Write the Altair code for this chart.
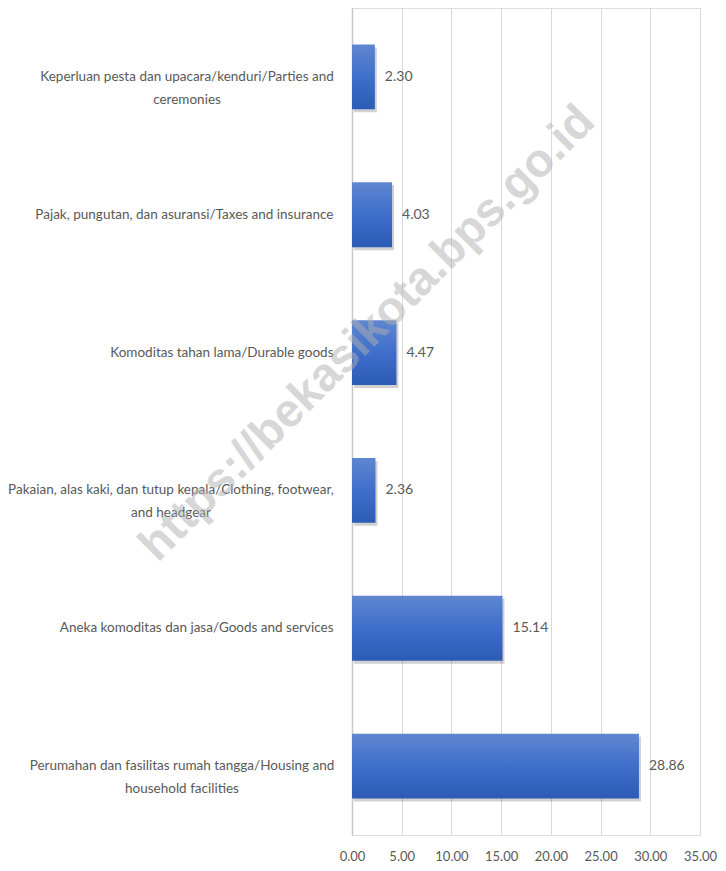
import altair as alt
import pandas as pd

categories = [
    "Keperluan pesta dan upacara/kenduri/Parties and|ceremonies",
    "Pajak, pungutan, dan asuransi/Taxes and insurance",
    "Komoditas tahan lama/Durable goods",
    "Pakaian, alas kaki, dan tutup kepala/Clothing, footwear,|and headgear",
    "Aneka komoditas dan jasa/Goods and services",
    "Perumahan dan fasilitas rumah tangga/Housing and|household facilities",
]
values = [2.30, 4.03, 4.47, 2.36, 15.14, 28.86]
x_ticks = [0, 5, 10, 15, 20, 25, 30, 35]
watermark = "https://bekasikota.bps.go.id"

df = pd.DataFrame({"cat": categories, "val": values})

FONT = "Lato"
GRAY = "#595959"

# two-line labels are centred on their block, single-line ones right-aligned
label_align = {
    "condition": {"test": "indexof(datum.value, '|') >= 0", "value": "center"},
    "value": "right",
}
label_pad = {
    "condition": [
        {"test": "indexof(datum.value, 'Keperluan') == 0", "value": 165.5},
        {"test": "indexof(datum.value, 'Pakaian') == 0", "value": 181.5},
        {"test": "indexof(datum.value, 'Perumahan') == 0", "value": 170.5},
    ],
    "value": 19,
}

y_enc = alt.Y(
    "cat:N", sort=categories, title=None,
    scale=alt.Scale(paddingInner=0.53, paddingOuter=0.265),
    axis=alt.Axis(
        labelExpr="split(datum.label, '|')", labelLimit=400, labelFont=FONT,
        labelFontSize=13.5, labelColor=GRAY, labelPadding=label_pad, ticks=False,
        domain=True, domainColor="#c8c8c8", domainWidth=1.5,
        labelLineHeight=23, labelAlign=label_align,
    ),
)
x_enc = alt.X(
    "val:Q", title=None,
    scale=alt.Scale(domain=[0, 35], nice=False),
    axis=alt.Axis(
        values=x_ticks, format=".2f", labelFont=FONT, labelFontSize=13,
        labelColor=GRAY, labelPadding=15, ticks=False, domain=False,
        labelFlush=False, labelOverlap=False,
        gridColor="#d9d9d9", gridWidth=1,
    ),
)

base = alt.Chart(df).encode(y=y_enc, x=x_enc)

shadow = base.mark_bar(color="#000000", opacity=0.18, xOffset=2, yOffset=3)

bars = base.mark_bar(
    color=alt.Gradient(
        gradient="linear", x1=0, x2=0, y1=0, y2=1,
        stops=[
            alt.GradientStop(color="#5F87D0", offset=0),
            alt.GradientStop(color="#3F6FCB", offset=0.5),
            alt.GradientStop(color="#2C5BB5", offset=1),
        ],
    )
)

labels = base.mark_text(
    align="left", baseline="middle", dx=10, font=FONT, fontSize=14, color=GRAY
).encode(text=alt.Text("val:Q", format=".2f"))

wm = alt.Chart(pd.DataFrame({"t": [watermark]})).mark_text(
    font="Liberation Sans", fontWeight="bold", fontSize=47, angle=315,
    color="#b0b0b0", opacity=0.5, align="center", baseline="middle",
).encode(text="t:N", x=alt.value(15.5), y=alt.value(325.5))

chart = (shadow + bars + labels + wm).properties(
    width=348, height=827,
    autosize=alt.AutoSizeParams(type="none"),
    padding={"left": 344, "top": 0, "right": 18, "bottom": 28},
).configure_view(stroke=None).configure(background="white")

chart.save("out.html", embed_options={"renderer": "svg", "actions": False})
